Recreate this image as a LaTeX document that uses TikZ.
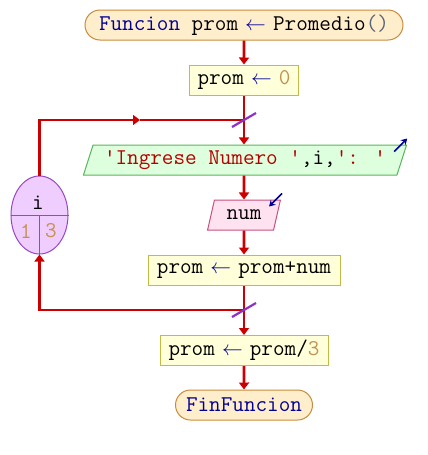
\documentclass[tikz,border=0pt]{standalone}
\usepackage{fontspec}
\usepackage{graphicx}
\usepackage{xcolor}
\definecolor{flow-red}{RGB}{204,0,0}
\definecolor{term-fill}{RGB}{255,238,204}
\definecolor{term-border}{RGB}{200,140,60}
\definecolor{proc-fill}{RGB}{255,255,218}
\definecolor{proc-border}{RGB}{190,190,70}
\definecolor{out-fill}{RGB}{222,255,222}
\definecolor{out-border}{RGB}{90,180,90}
\definecolor{in-fill}{RGB}{255,226,240}
\definecolor{in-border}{RGB}{200,80,130}
\definecolor{var-fill}{RGB}{240,205,255}
\definecolor{var-border}{RGB}{150,70,200}
\definecolor{join-purple}{RGB}{140,50,200}
\definecolor{kw-blue}{RGB}{0,0,150}
\definecolor{num-orange}{RGB}{195,145,80}
\definecolor{str-red}{RGB}{180,0,0}
\definecolor{paren-gray}{RGB}{90,100,120}
\usetikzlibrary{positioning,arrows.meta,shapes.geometric,shapes.misc}
\newcommand{\kw}[1]{\textcolor{kw-blue}{#1}}
\newcommand{\nm}[1]{\textcolor{num-orange}{#1}}
\newcommand{\st}[1]{\textcolor{str-red}{#1}}
\newcommand{\asg}{\makebox[0.525em][c]{\textcolor{kw-blue}{$\leftarrow$}}}

\begin{document}
\begin{tikzpicture}[
  x=1pt, y=-1pt,
  every node/.style={font=\ttfamily\fontsize{22.5}{26}\selectfont, text=black, inner sep=0pt},
  terminal/.style={
    rounded rectangle,
    draw=term-border,
    fill=term-fill,
    line width=1pt,
    minimum height=30pt
  },
  process/.style={
    rectangle,
    draw=proc-border,
    fill=proc-fill,
    line width=1pt,
    minimum height=30pt
  },
  outbox/.style={
    trapezium,
    trapezium left angle=65,
    trapezium right angle=115,
    trapezium stretches=true,
    draw=out-border,
    fill=out-fill,
    line width=1pt,
    minimum height=30pt
  },
  inbox/.style={
    trapezium,
    trapezium left angle=68,
    trapezium right angle=112,
    trapezium stretches=true,
    draw=in-border,
    fill=in-fill,
    line width=1pt,
    minimum height=30pt
  },
  loopvar/.style={
    ellipse,
    draw=var-border,
    fill=var-fill,
    line width=1pt,
    minimum width=57pt,
    minimum height=78pt
  },
  arrow/.style={
    -{Triangle[width=10pt,length=7pt]},
    line width=2.6pt,
    draw=flow-red
  },
  flowline/.style={
    line width=2.6pt,
    draw=flow-red
  },
  joinmark/.style={
    line width=2.2pt,
    draw=join-purple
  },
  iosign/.style={
    -{Stealth[width=7pt,length=6pt]},
    line width=1.6pt,
    draw=kw-blue
  }
]
\useasboundingbox (0,0) rectangle (428,455);

% Main column
\node[terminal, minimum width=318pt] (start) at (244,25) {\kw{Funcion} prom \asg{} Promedio\textcolor{paren-gray}{()}};
\node[process, minimum width=109pt] (init) at (244,80) {prom \asg{} \nm{0}};
\node[outbox, minimum width=324pt] (ask) at (245,160) {\st{'Ingrese Numero '},i,\st{': '}};
\node[inbox, minimum width=73pt] (read) at (244,215) {num};
\node[process, minimum width=192pt] (acc) at (244,270) {prom \asg{} prom+num};
\node[process, minimum width=168pt] (avg) at (244,350.5) {prom \asg{} prom/\nm{3}};
\node[terminal, minimum width=137pt] (stop) at (244,405) {\kw{FinFuncion}};

% Loop counter
\node[loopvar] (ivar) at (39.5,215) {};
\draw[var-border, line width=1pt] (ivar.west) -- (ivar.east);
\draw[var-border, line width=1pt] (ivar.center) -- (ivar.south);
\node (ivarname) at (38,203) {i};
\node (ivarfrom) at (26,231) {\nm{1}};
\node (ivarto) at (51,231) {\nm{3}};

% Joins of the loop
\coordinate (jtop) at (244,120);
\coordinate (jbot) at (244,310);
\coordinate (loopmid) at (140,120);

% Arrows
\draw[arrow] (start) -- (init);
\draw[arrow] (init) -- (ask.north -| init);
\draw[arrow] (ask.south -| read) -- (read);
\draw[arrow] (read) -- (acc);
\draw[arrow] (acc) -- (avg);
\draw[arrow] (avg) -- (stop);
\draw[arrow] (ivar.north) |- (loopmid);
\draw[flowline] (loopmid) -- (jtop);
\draw[arrow] (jbot) -| (ivar.south);

% Join marks
\draw[joinmark] ([shift={(-12,7)}]jtop) -- ([shift={(12,-7)}]jtop);
\draw[joinmark] ([shift={(-12,7)}]jbot) -- ([shift={(12,-7)}]jbot);

% Input / output signs
\draw[iosign] ([shift={(-13,7)}]ask.top right corner) -- ([shift={(0,-6)}]ask.top right corner);
\draw[iosign] ([shift={(1,-6)}]read.top right corner) -- ([shift={(-12,7)}]read.top right corner);

\end{tikzpicture}
\end{document}
